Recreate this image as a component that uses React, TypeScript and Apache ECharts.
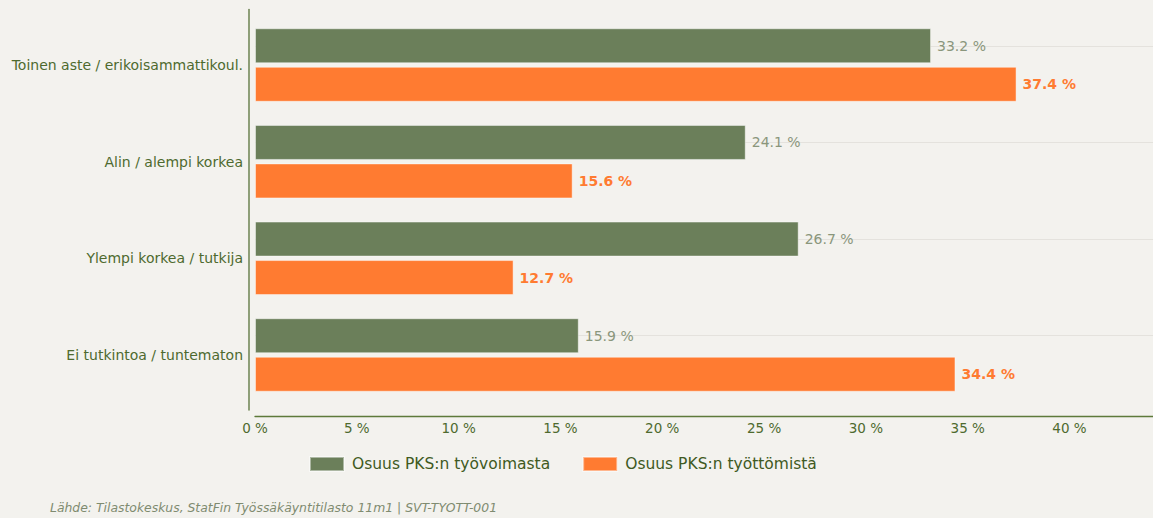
import React, { useEffect, useRef } from "react";
import * as echarts from "echarts";

const categories = [
  "Toinen aste / erikoisammattikoul.",
  "Alin / alempi korkea",
  "Ylempi korkea / tutkija",
  "Ei tutkintoa / tuntematon",
];
const seriesNames = ["Osuus PKS:n työvoimasta", "Osuus PKS:n työttömistä"];
const laborForceShare = [33.2, 24.1, 26.7, 15.9];
const unemployedShare = [37.4, 15.6, 12.7, 34.4];
const xTicks = { min: 0, max: 44.1, interval: 5 };
const sourceNote = "Lähde: Tilastokeskus, StatFin Työssäkäyntitilasto 11m1 | SVT-TYOTT-001";

const FONT = "DejaVu Sans";
const BG = "#f3f2ee";
const GREEN = "#6b7f5a";
const ORANGE = "#ff7b31";
const LABEL_GREEN = "#4e6a2e";

export default function App() {
  const ref = useRef<HTMLDivElement>(null);

  useEffect(() => {
    document.body.style.margin = "0";
    document.body.style.background = BG;
    const chart = echarts.init(ref.current!, null, { renderer: "svg" });
    const fmt = (p: any) => `${Number(p.value).toFixed(1)} %`;
    chart.setOption({
      animation: false,
      backgroundColor: BG,
      textStyle: { fontFamily: FONT },
      grid: [
        { left: 255, right: 0, top: 16.7, height: 386.6 },
        { left: 255, right: 0, top: 9.5, height: 400.5 },
      ],
      legend: {
        left: 309,
        top: 456,
        padding: 0,
        itemWidth: 34,
        itemHeight: 14,
        itemGap: 32,
        icon: "rect",
        textStyle: { fontFamily: FONT, fontSize: 15.5, color: "#3f5a22", padding: [0, 0, 0, 3] },
        data: seriesNames,
      },
      xAxis: [
        {
          type: "value",
          gridIndex: 0,
          min: xTicks.min,
          max: xTicks.max,
          interval: xTicks.interval,
          offset: 12.7,
          axisLine: { show: true, onZero: false, lineStyle: { color: "#5d7a3a", width: 1.3 } },
          axisTick: { show: false },
          splitLine: { show: false },
          axisLabel: {
            formatter: "{value} %",
            showMaxLabel: false,
            margin: 5,
            fontFamily: FONT,
            fontSize: 13.5,
            color: LABEL_GREEN,
          },
        },
        { type: "value", gridIndex: 1, show: false },
      ],
      yAxis: [
        {
          type: "category",
          gridIndex: 0,
          inverse: true,
          data: categories,
          axisLine: { show: false },
          axisTick: { show: false },
          axisLabel: { margin: 12, fontFamily: FONT, fontSize: 14, color: LABEL_GREEN },
        },
        {
          type: "value",
          gridIndex: 1,
          offset: 6.5,
          axisLine: { show: true, onZero: false, lineStyle: { color: "#74895a", width: 1.6 } },
          axisTick: { show: false },
          axisLabel: { show: false },
          splitLine: { show: false },
        },
      ],
      series: [
        {
          name: seriesNames[0],
          type: "bar",
          xAxisIndex: 0,
          yAxisIndex: 0,
          data: laborForceShare,
          barWidth: 35,
          barGap: "10%",
          itemStyle: { color: GREEN, borderColor: "rgba(255,255,255,0.45)", borderWidth: 1 },
          label: {
            show: true,
            position: "right",
            distance: 6,
            formatter: fmt,
            fontFamily: FONT,
            fontSize: 14,
            color: "#8a967c",
          },
          markLine: {
            silent: true,
            symbol: "none",
            label: { show: false },
            lineStyle: { color: "#e4e2dd", type: "solid", width: 1 },
            data: categories.map((c) => ({ yAxis: c })),
            z: 0,
          },
        },
        {
          name: seriesNames[1],
          type: "bar",
          xAxisIndex: 0,
          yAxisIndex: 0,
          data: unemployedShare,
          barWidth: 35,
          barGap: "10%",
          itemStyle: { color: ORANGE, borderColor: "rgba(255,255,255,0.45)", borderWidth: 1 },
          label: {
            show: true,
            position: "right",
            distance: 6,
            formatter: fmt,
            fontFamily: FONT,
            fontSize: 14,
            fontWeight: "bold",
            color: ORANGE,
          },
        },
      ],
      graphic: [
        {
          type: "text",
          left: 50,
          top: 501,
          style: {
            text: sourceNote,
            fontFamily: FONT,
            fontSize: 12.4,
            fontStyle: "italic",
            fill: "#7f8b70",
          },
        },
      ],
    });
    return () => chart.dispose();
  }, []);

  return <div ref={ref} style={{ width: 1153, height: 518, background: BG }} />;
}
